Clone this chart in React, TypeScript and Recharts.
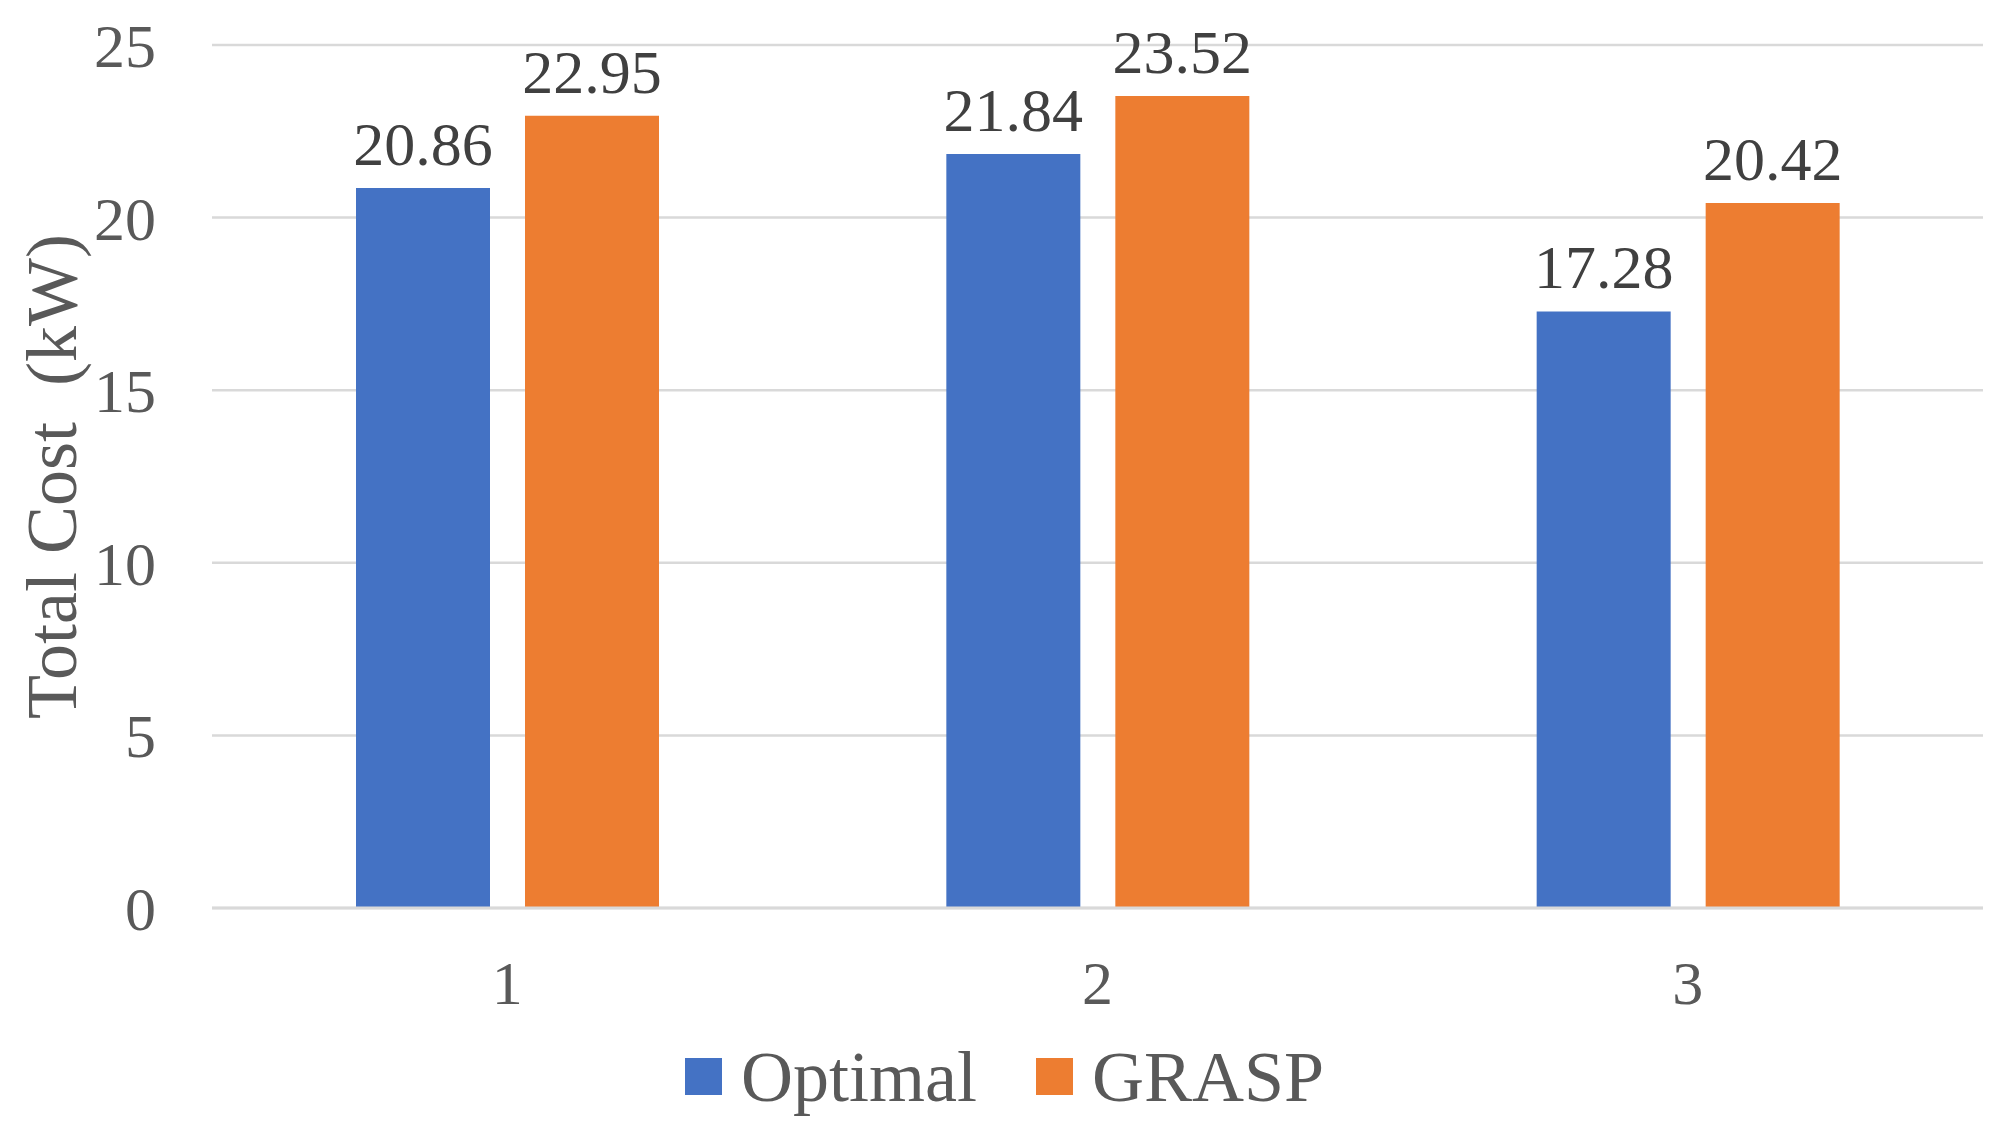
import React from "react";
import {
  BarChart,
  Bar,
  XAxis,
  YAxis,
  CartesianGrid,
  Legend,
  LabelList,
  Label,
} from "recharts";

const scenarios = ["1", "2", "3"];
const optimalCost = [20.86, 21.84, 17.28];
const graspCost = [22.95, 23.52, 20.42];
const yTicks = [0, 5, 10, 15, 20, 25];
const seriesOrder = ["Optimal", "GRASP"];

const chartData = scenarios.map((name, i) => ({
  name,
  Optimal: optimalCost[i],
  GRASP: graspCost[i],
}));

const SERIF = '"Liberation Serif", "Times New Roman", serif';
const BLUE = "#4472C4";
const ORANGE = "#ED7D31";

function LegendContent({ payload }: any) {
  const items = [...(payload || [])].sort(
    (a: any, b: any) => seriesOrder.indexOf(a.value) - seriesOrder.indexOf(b.value)
  );
  return (
    <div
      style={{
        display: "flex",
        justifyContent: "center",
        alignItems: "center",
        height: 109,
        fontFamily: SERIF,
        fontSize: 72,
        color: "#595959",
      }}
    >
      {items.map((entry: any, i: number) => (
        <div
          key={entry.value}
          style={{ display: "flex", alignItems: "center", marginLeft: i === 0 ? 0 : 59 }}
        >
          <span style={{ width: 37, height: 37, background: entry.color, marginRight: 19 }} />
          <span style={{ lineHeight: 1 }}>{entry.value}</span>
        </div>
      ))}
    </div>
  );
}

export default function App() {
  return (
    <div style={{ position: "absolute", left: 0, top: 0, background: "#fff" }}>
      <BarChart
        width={2009}
        height={1131}
        data={chartData}
        margin={{ top: 45, right: 26, left: 0, bottom: 0 }}
        barGap={35}
        barSize={134}
      >
        <CartesianGrid vertical={false} stroke="#D9D9D9" strokeWidth={2.5} />
        <XAxis
          dataKey="name"
          height={114}
          tickSize={0}
          tickMargin={52}
          axisLine={{ stroke: "#D9D9D9", strokeWidth: 3 }}
          tick={{ fontSize: 62, fill: "#595959", fontFamily: SERIF }}
        />
        <YAxis
          width={212}
          domain={[0, 25]}
          ticks={yTicks}
          interval={0}
          tickSize={0}
          tickMargin={56}
          axisLine={false}
          tickLine={false}
          tick={{ fontSize: 62, fill: "#595959", fontFamily: SERIF }}
        >
          <Label
            value={"Total Cost\u00a0 (kW)"}
            angle={-90}
            position="insideLeft"
            offset={0}
            dx={50}
            style={{ fontSize: 72, fill: "#595959", fontFamily: SERIF, textAnchor: "middle" }}
          />
        </YAxis>
        <Legend
          verticalAlign="bottom"
          content={<LegendContent />}
          wrapperStyle={{ left: 0, width: 2009 }}
        />
        <Bar dataKey="Optimal" fill={BLUE} isAnimationActive={false}>
          <LabelList
            dataKey="Optimal"
            position="top"
            offset={23}
            style={{ fontSize: 62, fill: "#404040", fontFamily: SERIF }}
          />
        </Bar>
        <Bar dataKey="GRASP" fill={ORANGE} isAnimationActive={false}>
          <LabelList
            dataKey="GRASP"
            position="top"
            offset={23}
            style={{ fontSize: 62, fill: "#404040", fontFamily: SERIF }}
          />
        </Bar>
      </BarChart>
    </div>
  );
}
